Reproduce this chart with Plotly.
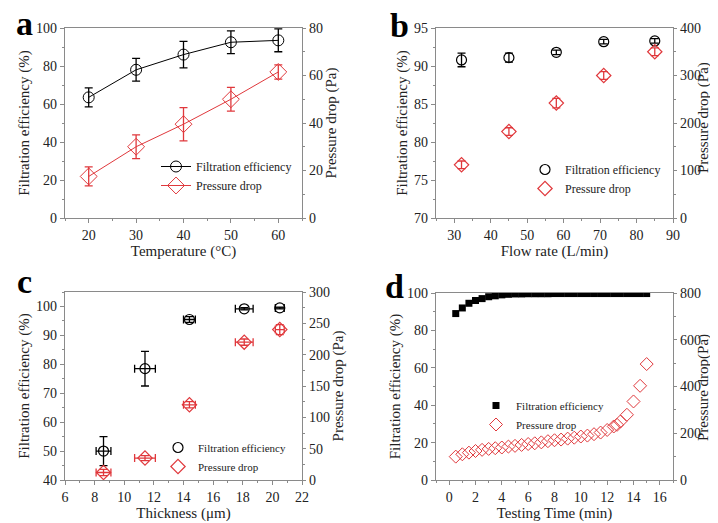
import plotly.graph_objects as go

# The page adds an 8px body margin; work in reference pixels and shift.
OFF = 8
W, H = 718 - OFF, 523 - OFF
FONT = "Liberation Serif"
RED = "#e0383c"
AX = "#8a8a8a"

# ---- Panel a data ----
a_temp = [20, 30, 40, 50, 60]
a_fe = [63.5, 78, 86, 92.5, 93.5]
a_fe_err = [5, 6, 7, 6, 6]
a_pd = [17.5, 30, 39.5, 50, 61.5]
a_pd_err = [4, 5, 7, 5, 3]

# ---- Panel b data ----
b_flow = [32, 45, 58, 71, 85]
b_fe = [90.8, 91.1, 91.8, 93.2, 93.3]
b_fe_err = [0.9, 0.6, 0.3, 0.3, 0.3]
b_pd = [112, 182, 242, 300, 350]
b_pd_err = [8, 8, 10, 8, 8]

# ---- Panel c data ----
c_thick = [8.6, 11.4, 14.4, 18.1, 20.5]
c_thick_err = [0.5, 0.7, 0.4, 0.6, 0.3]
c_fe = [50, 78.5, 95.5, 99.2, 99.5]
c_fe_err = [5, 6, 1, 0.4, 0.3]
c_pd = [12, 35, 120, 220, 240]
c_pd_err = [5, 4, 5, 5, 8]

# ---- Panel d data ----
d_time_fe = [0.5, 1, 1.5, 2, 2.5, 3, 3.5, 4, 4.5, 5, 5.5, 6, 6.5, 7, 7.5, 8,
             8.5, 9, 9.5, 10, 10.5, 11, 11.5, 12, 12.5, 13, 13.5, 14, 14.5, 15]
d_fe = [89, 92, 94.5, 96, 97, 98, 98.5, 99, 99.3, 99.5, 99.5, 99.6, 99.6, 99.6,
        99.6, 99.7, 99.7, 99.7, 99.7, 99.7, 99.7, 99.7, 99.7, 99.7, 99.7, 99.7,
        99.7, 99.7, 99.7, 99.7]
d_time_pd = [0.5, 1, 1.5, 2, 2.5, 3, 3.5, 4, 4.5, 5, 5.5, 6, 6.5, 7, 7.5, 8,
             8.5, 9, 9.5, 10, 10.5, 11, 11.5, 12, 12.5, 12.75, 13, 13.5, 14, 14.5, 15]
d_pd = [100, 110, 117, 124, 129, 133, 136, 139, 143, 146, 150, 154, 157, 161,
        166, 170, 173, 177, 181, 186, 190, 196, 203, 214, 229, 236, 250, 279,
        336, 403, 496]

fig = go.Figure()

def err(arr, color):
    return dict(type="data", array=arr, color=color, thickness=1.3, width=4)

# Panel a
fig.add_trace(go.Scatter(x=a_temp, y=a_fe, mode="lines+markers", name="Filtration efficiency",
                         line=dict(color="black", width=1),
                         marker=dict(symbol="circle-open", size=11, color="black", line=dict(width=1)),
                         error_y=err(a_fe_err, "black"), xaxis="x", yaxis="y", legend="legend"))
fig.add_trace(go.Scatter(x=a_temp, y=a_pd, mode="lines+markers", name="Pressure drop",
                         line=dict(color=RED, width=1),
                         marker=dict(symbol="diamond-open", size=13, color=RED, line=dict(width=1)),
                         error_y=err(a_pd_err, RED), xaxis="x", yaxis="y2", legend="legend"))
# Panel b
fig.add_trace(go.Scatter(x=b_flow, y=b_fe, mode="markers", name="Filtration efficiency",
                         marker=dict(symbol="circle-open", size=10, color="black", line=dict(width=1.2)),
                         error_y=err(b_fe_err, "black"), xaxis="x2", yaxis="y3", legend="legend2"))
fig.add_trace(go.Scatter(x=b_flow, y=b_pd, mode="markers", name="Pressure drop",
                         marker=dict(symbol="diamond-open", size=11, color=RED, line=dict(width=1.2)),
                         error_y=err(b_pd_err, RED), xaxis="x2", yaxis="y4", legend="legend2"))
# Panel c
fig.add_trace(go.Scatter(x=c_thick, y=c_fe, mode="markers", name="Filtration efficiency",
                         marker=dict(symbol="circle-open", size=10, color="black", line=dict(width=1.2)),
                         error_y=err(c_fe_err, "black"), error_x=err(c_thick_err, "black"),
                         xaxis="x3", yaxis="y5", legend="legend3"))
fig.add_trace(go.Scatter(x=c_thick, y=c_pd, mode="markers", name="Pressure drop",
                         marker=dict(symbol="diamond-open", size=11, color=RED, line=dict(width=1.2)),
                         error_y=err(c_pd_err, RED), error_x=err(c_thick_err, RED),
                         xaxis="x3", yaxis="y6", legend="legend3"))
# Panel d
fig.add_trace(go.Scatter(x=d_time_fe, y=d_fe, mode="markers", name="Filtration efficiency",
                         marker=dict(symbol="square", size=7, color="black"),
                         xaxis="x4", yaxis="y7", legend="legend4"))
fig.add_trace(go.Scatter(x=d_time_pd, y=d_pd, mode="markers", name="Pressure drop",
                         marker=dict(symbol="diamond-open", size=10, color=RED, line=dict(width=1)),
                         xaxis="x4", yaxis="y8", legend="legend4"))

def px_x(a, b):
    return [(a - OFF) / W, (b - OFF) / W]

def px_y(top, bottom):
    return [1 - (bottom - OFF) / H, 1 - (top - OFF) / H]

def fx(xp):
    return (xp - OFF) / W

def fy(yp):
    return 1 - (yp - OFF) / H

tickfont = dict(family=FONT, size=14, color="#222")
titlefont = dict(family=FONT, size=15, color="#222")

def xax(dom, rng, dtick, minor, title, anchor):
    return dict(domain=dom, range=rng, dtick=dtick, tick0=0, showline=True, mirror=True,
                linecolor=AX, linewidth=1.3, ticks="outside", ticklen=4, tickcolor=AX,
                minor=dict(dtick=minor, ticks="outside", ticklen=2, tickcolor=AX),
                showgrid=False, zeroline=False, tickfont=tickfont, automargin=False,
                title=dict(text=title, font=titlefont, standoff=0), anchor=anchor)

def yax(dom, rng, dtick, minor, title, anchor, side="left", overlaying=None, standoff=2):
    d = dict(domain=dom, range=rng, dtick=dtick, tick0=0, showline=True,
             linecolor=AX, linewidth=1.3, ticks="outside", ticklen=3 if side == "right" else 4,
             tickcolor=AX,
             minor=dict(dtick=minor, ticks="outside", ticklen=2, tickcolor=AX),
             showgrid=False, zeroline=False, tickfont=tickfont, side=side, automargin=False,
             title=dict(text=title, font=titlefont, standoff=standoff), anchor=anchor)
    if overlaying:
        d["overlaying"] = overlaying
    return d

dA_x = px_x(65, 302); dA_y = px_y(28, 218)
dB_x = px_x(436, 673); dB_y = px_y(28, 218)
dC_x = px_x(65, 302); dC_y = px_y(292, 480)
dD_x = px_x(436, 673); dD_y = px_y(293, 480)

fig.update_layout(
    width=W, height=H, margin=dict(l=0, r=0, t=0, b=0),
    paper_bgcolor="white", plot_bgcolor="white",
    font=dict(family=FONT, color="#222"),
    xaxis=xax(dA_x, [15, 65], 10, 5, "Temperature (°C)", "y"),
    yaxis=yax(dA_y, [0, 100], 20, 10, "Filtration efficiency (%)", "x"),
    yaxis2=yax(dA_y, [0, 80], 20, 10, "Pressure drop (Pa)", "x", side="right", overlaying="y"),
    xaxis2=xax(dB_x, [25, 90], 10, 5, "Flow rate (L/min)", "y3"),
    yaxis3=yax(dB_y, [70, 95], 5, 2.5, "Filtration efficiency (%)", "x2"),
    yaxis4=yax(dB_y, [0, 400], 100, 50, "", "x2", side="right", overlaying="y3"),
    xaxis3=xax(dC_x, [6, 22], 2, 1, "Thickness (μm)", "y5"),
    yaxis5=yax(dC_y, [40, 105], 10, 5, "Filtration efficiency (%)", "x3"),
    yaxis6=yax(dC_y, [0, 300], 50, 25, "Pressure drop (Pa)", "x3", side="right", overlaying="y5"),
    xaxis4=xax(dD_x, [-1, 17], 2, 1, "Testing Time (min)", "y7"),
    yaxis7=yax(dD_y, [0, 100], 20, 10, "Filtration efficiency (%)", "x4"),
    yaxis8=yax(dD_y, [0, 800], 200, 100, "", "x4", side="right", overlaying="y7"),
)

# Right-hand titles of panels b and d sit right at the page edge
for txt, xp, yp in [("Pressure drop (Pa)", 703, 118), ("Pressure drop(Pa)", 703, 388)]:
    fig.add_annotation(text=txt, x=fx(xp), y=fy(yp), xref="paper", yref="paper",
                       showarrow=False, textangle=-90, font=titlefont,
                       xanchor="center", yanchor="middle")

def leg(xp, yp, size=12):
    return dict(x=fx(xp), y=fy(yp), xanchor="left", yanchor="top",
                bgcolor="rgba(0,0,0,0)", font=dict(family=FONT, size=size, color="#222"),
                itemwidth=30, tracegroupgap=0)

fig.update_layout(legend=leg(156, 152), legend2=leg(525, 155),
                  legend3=leg(158, 433, 11), legend4=leg(476, 391, 11))

for txt, xp, yp in [("a", 24, 44), ("b", 399, 46), ("c", 24, 302), ("d", 394, 307)]:
    fig.add_annotation(text=f"<b>{txt}</b>", x=fx(xp), y=fy(yp), xanchor="center",
                       yanchor="bottom", xref="paper", yref="paper", showarrow=False,
                       font=dict(family=FONT, size=34, color="black"))

fig.write_html("out.html")
